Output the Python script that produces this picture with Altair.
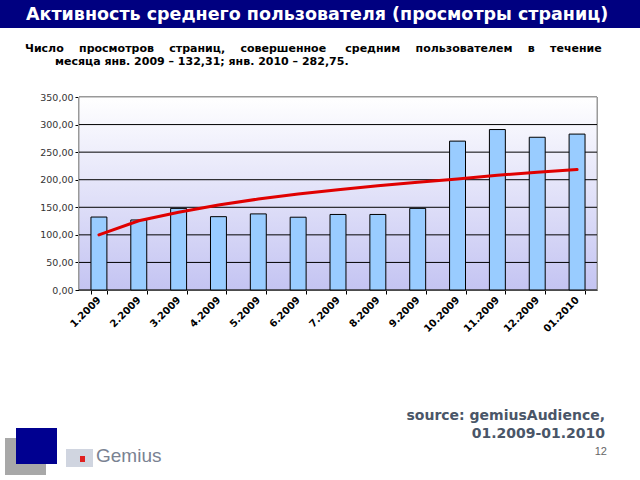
import altair as alt
import pandas as pd

months = ["1.2009", "2.2009", "3.2009", "4.2009", "5.2009", "6.2009", "7.2009",
          "8.2009", "9.2009", "10.2009", "11.2009", "12.2009", "01.2010"]
views = [132.31, 127, 148, 133, 138, 132, 137, 137, 148, 270, 291, 277, 282.75]
trend = [100, 125.6, 141, 154, 165, 174, 182, 189, 195.5, 201.5, 208, 213.5, 218.4]
yticks = [0, 50, 100, 150, 200, 250, 300, 350]

title_text = "Активность среднего пользователя (просмотры страниц)"
sub1_words = ["Число", "просмотров", "страниц,", "совершенное", "средним",
              "пользователем", "в", "течение"]
sub2 = "месяца янв. 2009 – 132,31; янв. 2010 – 282,75."
src1 = "source: gemiusAudience,"
src2 = "01.2009-01.2010"
page_no = "12"

W, H = 518, 193
L, T = 79, 97

df = pd.DataFrame({"month": months, "views": views, "trend": trend})
grid_df = pd.DataFrame({"views": yticks[:-1]})

xscale = alt.Scale(domain=months, paddingInner=0.6, paddingOuter=0.3)
yscale = alt.Scale(domain=[0, 350])

xaxis = alt.Axis(labelAngle=-45, labelAlign="right", labelBaseline="middle",
                 labelFont="DejaVu Sans", labelFontWeight="bold", labelFontSize=10,
                 labelColor="black", tickBand="extent", tickColor="black",
                 domainColor="black", tickSize=4, labelPadding=4, grid=False,
                 labelOverlap=False)
yaxis = alt.Axis(values=yticks,
                 labelExpr="replace(format(datum.value, '.2f'), '.', ',')",
                 labelFont="DejaVu Sans", labelFontSize=9.5, labelColor="#333333",
                 tickColor="black", domainColor="black", tickSize=4,
                 labelOverlap=False, labelFlush=False, grid=False)

X = alt.X("month:N", scale=xscale, sort=months, title=None, axis=xaxis)

base = alt.Chart(df)

bg = base.mark_rect(
    color=alt.LinearGradient(
        gradient="linear", x1=0, y1=0, x2=0, y2=1,
        stops=[alt.GradientStop(color="#ffffff", offset=0),
               alt.GradientStop(color="#c4c4f2", offset=1)]
    ),
    stroke="#999999", strokeWidth=1,
).encode(x=alt.value(0), x2=alt.value(W), y=alt.value(0), y2=alt.value(H))

grid = alt.Chart(grid_df).mark_rule(color="black", strokeWidth=1).encode(
    y=alt.Y("views:Q", scale=yscale, title=None, axis=yaxis),
    x=alt.value(0), x2=alt.value(W))

bars = base.mark_bar(color="#99ccff", stroke="black", strokeWidth=1).encode(
    x=X,
    y=alt.Y("views:Q", scale=yscale, title=None, axis=yaxis),
)

line = base.mark_line(color="#e00000", strokeWidth=3, strokeCap="round").encode(
    x=X,
    y=alt.Y("trend:Q", scale=yscale, title=None, axis=yaxis),
)

def txt(text, x, y, **kw):
    return alt.Chart(pd.DataFrame({"t": [text]})).mark_text(**kw).encode(
        text="t:N", x=alt.value(x), y=alt.value(y))

banner = alt.Chart(pd.DataFrame({"a": [0]})).mark_rect(color="#000080").encode(
    x=alt.value(-L), x2=alt.value(640 - L), y=alt.value(-T), y2=alt.value(-T + 28))

title = txt(title_text, 26 - L, 20 - T, font="DejaVu Sans", fontWeight="bold", fontSize=17.5,
            color="white", align="left", baseline="alphabetic")
gaps = [4, 4, 4, 5, 4, 4, 4]
sub1 = sub1_words[0]
for g, w in zip(gaps, sub1_words[1:]):
    sub1 += "\u00a0" * g + w
s1 = txt(sub1, 25 - L, 52 - T, font="DejaVu Sans", fontWeight="bold", fontSize=11,
         color="black", align="left", baseline="alphabetic")
s2 = txt(sub2, 55 - L, 65 - T, font="DejaVu Sans", fontWeight="bold", fontSize=11,
         color="black", align="left", baseline="alphabetic")
so1 = txt(src1, 605 - L, 420 - T, font="DejaVu Sans", fontWeight="bold", fontSize=14,
          color="#4a5668", align="right", baseline="alphabetic")
so2 = txt(src2, 605 - L, 438 - T, font="DejaVu Sans", fontWeight="bold", fontSize=14,
          color="#4a5668", align="right", baseline="alphabetic")
pg = txt(page_no, 607 - L, 455 - T, font="Liberation Sans", fontSize=11,
         color="#666666", align="right", baseline="alphabetic")

logo_gray = alt.Chart(pd.DataFrame({"a": [0]})).mark_rect(color="#a8a8a8").encode(
    x=alt.value(5 - L), x2=alt.value(46 - L), y=alt.value(438 - T), y2=alt.value(475 - T))
logo_navy = alt.Chart(pd.DataFrame({"a": [0]})).mark_rect(color="#000090").encode(
    x=alt.value(16 - L), x2=alt.value(57 - L), y=alt.value(428 - T), y2=alt.value(464 - T))
dots = alt.Chart(pd.DataFrame({"a": [0]})).mark_rect(color="#c4cad8", opacity=0.8).encode(
    x=alt.value(66 - L), x2=alt.value(93 - L), y=alt.value(449 - T), y2=alt.value(467 - T))
reddot = alt.Chart(pd.DataFrame({"a": [0]})).mark_rect(color="#e02020").encode(
    x=alt.value(80 - L), x2=alt.value(85 - L), y=alt.value(456 - T), y2=alt.value(462 - T))
gem = txt("Gemius", 96 - L, 462 - T, font="Liberation Sans", fontSize=19,
          color="#7a8292", align="left", baseline="alphabetic")

chart = alt.layer(bg, grid, bars, line, banner, title, s1, s2, so1, so2, pg,
                  logo_gray, logo_navy, dots, reddot, gem).properties(
    width=W, height=H,
    autosize=alt.AutoSizeParams(type="none"),
    padding={"left": L, "top": T, "right": 640 - L - W, "bottom": 480 - T - H},
    background="white",
).configure_view(stroke=None)

chart.save("out.html", embed_options={"renderer": "svg", "actions": False})
